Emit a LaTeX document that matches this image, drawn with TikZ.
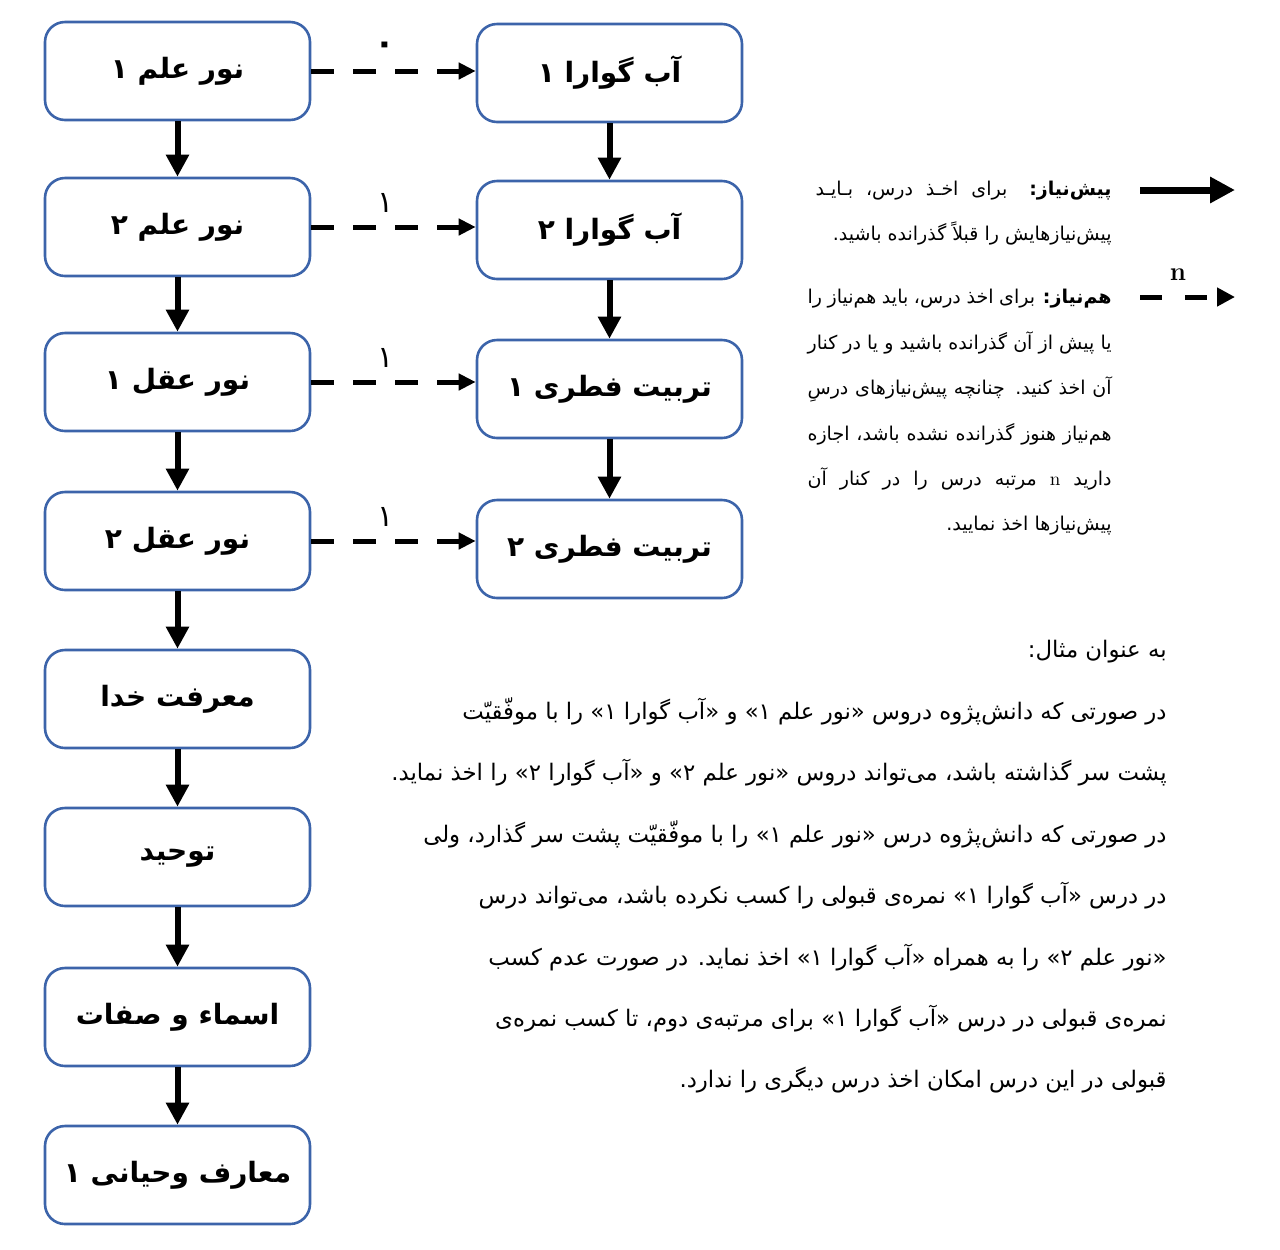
\documentclass[tikz,border=0pt]{standalone}
\usepackage{fontspec}
\usetikzlibrary{arrows.meta}
\newfontfamily\fa[Script=Arabic]{DejaVu Sans}
\TeXXeTstate=1
\definecolor{boxblue}{RGB}{60,100,170}
\newcommand{\zw}{^^^^200c}
\begin{document}
\begin{tikzpicture}[x=0.5pt,y=-0.5pt,
  crs/.style={draw=boxblue, line width=1.3pt, rounded corners=10pt,
    minimum width=132.5pt, minimum height=49pt, inner sep=0pt,
    font=\fa\bfseries\fontsize{14}{17}\selectfont},
  pre/.style={line width=3pt, -{Triangle[length=11pt,width=11pt]}},
  co/.style={line width=2.5pt, dash pattern=on 11.5pt off 9.5pt,
    -{Triangle[length=8.5pt,width=8pt]}},
  lbl/.style={font=\fa\fontsize{15}{17}\selectfont, inner sep=0pt},
  leg/.style={anchor=east, inner sep=0pt, text height=8pt, text depth=3pt,
    font=\fa\fontsize{9.5}{11}\selectfont},
  par/.style={anchor=east, inner sep=0pt, text height=10pt, text depth=3pt,
    font=\fa\fontsize{11.4}{13}\selectfont}
]
\useasboundingbox (0,0) rectangle (1280,1249);
% left column
\node[crs] (L1) at (177.5,71)  {\beginR نور علم ۱\endR};
\node[crs] (L2) at (177.5,227) {\beginR نور علم ۲\endR};
\node[crs] (L3) at (177.5,382) {\beginR نور عقل ۱\endR};
\node[crs] (L4) at (177.5,541) {\beginR نور عقل ۲\endR};
\node[crs] (L5) at (177.5,699) {\beginR معرفت خدا\endR};
\node[crs] (L6) at (177.5,857) {\beginR توحید\endR};
\node[crs] (L7) at (177.5,1017) {\beginR اسماء و صفات\endR};
\node[crs] (L8) at (177.5,1175) {\beginR معارف وحیانی ۱\endR};
% right column
\node[crs] (R1) at (609.5,73)  {\beginR آب گوارا ۱\endR};
\node[crs] (R2) at (609.5,230) {\beginR آب گوارا ۲\endR};
\node[crs] (R3) at (609.5,389) {\beginR تربیت فطری ۱\endR};
\node[crs] (R4) at (609.5,549) {\beginR تربیت فطری ۲\endR};
% prerequisite arrows
\foreach \a/\b in {L1/L2,L2/L3,L3/L4,L4/L5,L5/L6,L6/L7,L7/L8,R1/R2,R2/R3,R3/R4}
  \draw[pre] (\a.south) -- (\b.north);
% corequisite arrows
\draw[co] (L1.east) -- (L1.east -| R1.west) node[lbl, pos=0.45, above=7pt, font=\fa\bfseries\fontsize{17}{19}\selectfont] {\beginR ۰\endR};
\draw[co] (L2.east) -- (L2.east -| R2.west) node[lbl, pos=0.45, above=6pt] {\beginR ۱\endR};
\draw[co] (L3.east) -- (L3.east -| R3.west) node[lbl, pos=0.45, above=6pt] {\beginR ۱\endR};
\draw[co] (L4.east) -- (L4.east -| R4.west) node[lbl, pos=0.45, above=6pt] {\beginR ۱\endR};
% legend arrows
\coordinate (ps) at (1140,190);
\coordinate (pe) at (1235,190);
\draw[line width=3.5pt, -{Triangle[length=12.5pt,width=12.5pt]}] (ps) -- (pe);
\coordinate (cs) at (1140,297);
\coordinate (ce) at (1235,297);
\draw[line width=2.5pt, dash pattern=on 11pt off 11.5pt,
  -{Triangle[length=9pt,width=9pt]}] (cs) -- (ce)
  node[pos=0.4, above=7pt, inner sep=0pt, font=\bfseries\fontsize{13}{15}\selectfont] (nl) {n};
% legend text
\node[leg] (g1) at (1112,190) {\hbox to 148pt{\beginR {\bfseries پیش\zw نیاز:} برای اخـذ درس، بـایـد\endR}};
\node[leg] (g2) at (1112,235) {\beginR پیش\zw نیازهایش را قبلاً گذرانده باشید.\endR};
\node[leg] (h1) at (1112,298) {\hbox to 152pt{\beginR {\bfseries هم\zw نیاز:} برای اخذ درس، باید هم\zw نیاز را\endR}};
\node[leg] (h2) at (1112,344) {\hbox to 152pt{\beginR یا پیش از آن گذرانده باشید و یا در کنار\endR}};
\node[leg] (h3) at (1112,389) {\hbox to 152pt{\beginR آن اخذ کنید. چنانچه پیش\zw نیازهای درسِ\endR}};
\node[leg] (h4) at (1112,435) {\hbox to 152pt{\beginR هم\zw نیاز هنوز گذرانده نشده باشد، اجازه\endR}};
\node[leg] (h5) at (1112,480) {\hbox to 152pt{\beginR دارید {\rmfamily n} مرتبه درس را در کنار آن\endR}};
\node[leg] (h6) at (1112,525) {\beginR پیش\zw نیازها اخذ نمایید.\endR};
% example paragraph
\node[par] (p0) at (1167,650) {\beginR به عنوان مثال:\endR};
\node[par] (p1) at (1167,712) {\beginR در صورتی که دانش\zw پژوه دروس «نور علم ۱» و «آب گوارا ۱» را با موفّقیّت\endR};
\node[par] (p2) at (1167,773) {\beginR پشت سر گذاشته باشد، می\zw تواند دروس «نور علم ۲» و «آب گوارا ۲» را اخذ نماید.\endR};
\node[par] (p3) at (1167,835) {\beginR در صورتی که دانش\zw پژوه درس «نور علم ۱» را با موفّقیّت پشت سر گذارد، ولی\endR};
\node[par] (p4) at (1167,896) {\beginR در درس «آب گوارا ۱» نمره\zw ی قبولی را کسب نکرده باشد، می\zw تواند درس\endR};
\node[par] (p5) at (1167,958) {\beginR «نور علم ۲» را به همراه «آب گوارا ۱» اخذ نماید. در صورت عدم کسب\endR};
\node[par] (p6) at (1167,1019) {\beginR نمره\zw ی قبولی در درس «آب گوارا ۱» برای مرتبه\zw ی دوم، تا کسب نمره\zw ی\endR};
\node[par] (p7) at (1167,1080) {\beginR قبولی در این درس امکان اخذ درس دیگری را ندارد.\endR};
\end{tikzpicture}
\end{document}
